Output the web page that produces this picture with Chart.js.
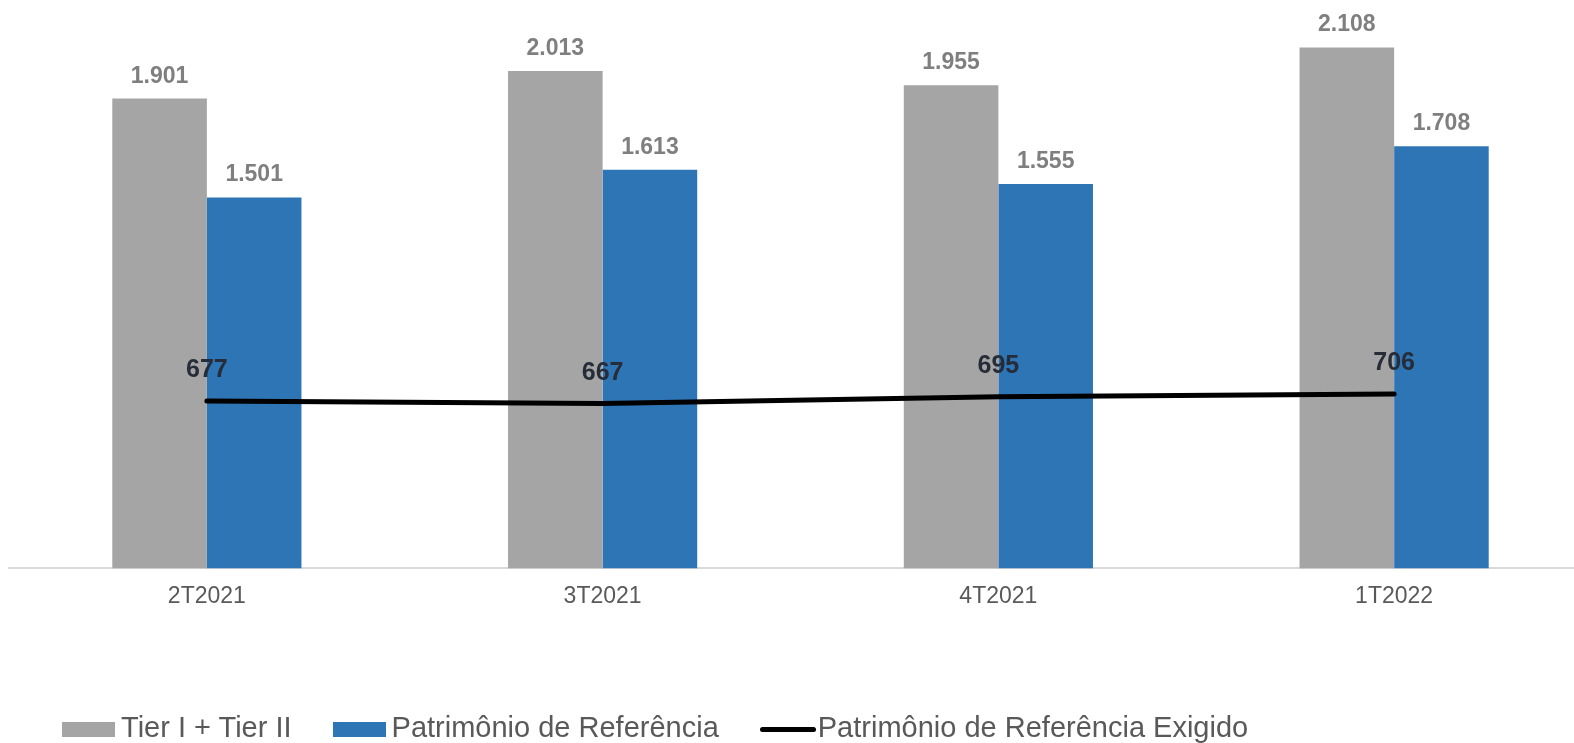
<!DOCTYPE html>
<html lang="pt-BR">
<head>
<meta charset="utf-8">
<title>Patrimônio de Referência</title>
<script src="https://cdn.jsdelivr.net/npm/chart.js@4/dist/chart.umd.min.js"></script>
<style>
    html, body {
        margin: 0;
        padding: 0;
        background: #ffffff;
    }
    #frame {
        position: relative;
        width: 1574px;
        height: 743px;
        overflow: hidden;
        font-family: "Liberation Sans", Arial, sans-serif;
    }
    #chartBox {
        position: absolute;
        left: 0;
        top: 0;
        width: 1600px;
        height: 743px;
    }
    #legend {
        position: absolute;
        left: 62px;
        top: 713px;
        display: flex;
        align-items: center;
        font-size: 29px;
        line-height: 29px;
        color: #595959;
        white-space: nowrap;
    }
    .legend-item {
        display: flex;
        align-items: center;
        margin-right: 41px;
    }
    .legend-box {
        width: 53px;
        height: 15px;
        margin-right: 6px;
        margin-top: 3px;
    }
    .legend-line {
        width: 56px;
        height: 5px;
        border-radius: 3px;
        margin-right: 2px;
        margin-top: 3px;
    }
</style>
</head>
<body>
<div id="frame">
    <div id="chartBox"><canvas id="capitalChart"></canvas></div>
    <div id="legend"></div>
</div>

<script>
const categories = ["2T2021", "3T2021", "4T2021", "1T2022"];
const tierValues = [1901, 2013, 1955, 2108];
const patrimonioValues = [1501, 1613, 1555, 1708];
const exigidoValues = [677, 667, 695, 706];

const seriesNames = ["Tier I + Tier II", "Patrimônio de Referência", "Patrimônio de Referência Exigido"];

// numbers use "." as the thousands separator, like the source
function formatValue(v) {
    return String(v).replace(/\B(?=(\d{3})+(?!\d))/g, ".");
}

const valueLabels = {
    id: "valueLabels",
    afterDatasetsDraw(chart) {
        const ctx = chart.ctx;
        ctx.save();
        ctx.textAlign = "center";
        ctx.textBaseline = "alphabetic";
        chart.data.datasets.forEach((ds, i) => {
            const meta = chart.getDatasetMeta(i);
            const isLine = ds.type === "line";
            ctx.font = isLine
                ? "bold 25px 'Liberation Sans', Arial, sans-serif"
                : "bold 23px 'Liberation Sans', Arial, sans-serif";
            ctx.fillStyle = isLine ? "#262C38" : "#7F7F7F";
            meta.data.forEach((el, j) => {
                const offset = isLine ? 24 : 16;
                ctx.fillText(formatValue(ds.data[j]), el.x, el.y - offset);
            });
        });
        ctx.restore();
    }
};

const CapitalChart = {

    chart: null,

    init() {
        this.createChart();
        this.buildLegend();
    },

    createChart() {

        const ctx = document.getElementById("capitalChart");

        if (!ctx) return;

        this.chart = new Chart(ctx, {
            data: {
                labels: categories,
                datasets: [
                    {
                        type: "line",
                        label: seriesNames[2],
                        data: exigidoValues,
                        borderColor: "#000000",
                        borderWidth: 5,
                        borderCapStyle: "round",
                        pointRadius: 0,
                        tension: 0,
                        fill: false,
                        order: 0
                    },
                    {
                        type: "bar",
                        label: seriesNames[0],
                        data: tierValues,
                        backgroundColor: "#A5A5A5",
                        barPercentage: 1,
                        categoryPercentage: 0.478,
                        order: 1
                    },
                    {
                        type: "bar",
                        label: seriesNames[1],
                        data: patrimonioValues,
                        backgroundColor: "#2E75B6",
                        barPercentage: 1,
                        categoryPercentage: 0.478,
                        order: 1
                    }
                ]
            },
            options: {
                responsive: true,
                maintainAspectRatio: false,
                animation: false,
                layout: {
                    padding: { left: 9, right: 8, top: 0, bottom: 119 }
                },
                plugins: {
                    legend: { display: false },
                    tooltip: { enabled: false }
                },
                scales: {
                    x: {
                        grid: { display: false, drawTicks: false, tickLength: 0 },
                        border: { display: true, color: "#D9D9D9", width: 2 },
                        ticks: {
                            color: "#595959",
                            padding: 14,
                            font: { family: "'Liberation Sans', Arial, sans-serif", size: 23 }
                        }
                    },
                    y: {
                        display: false,
                        beginAtZero: true,
                        min: 0,
                        max: 2300
                    }
                }
            },
            plugins: [valueLabels]
        });

    },

    buildLegend() {

        const legend = document.getElementById("legend");
        const order = [1, 2, 0];

        order.forEach(i => {
            const ds = this.chart.data.datasets[i];
            const item = document.createElement("div");
            item.className = "legend-item";
            const mark = document.createElement("span");
            if (ds.type === "line") {
                mark.className = "legend-line";
                mark.style.background = ds.borderColor;
            } else {
                mark.className = "legend-box";
                mark.style.background = ds.backgroundColor;
            }
            const text = document.createElement("span");
            text.textContent = ds.label;
            item.appendChild(mark);
            item.appendChild(text);
            legend.appendChild(item);
        });

    }

};

document.addEventListener("DOMContentLoaded", () => {
    CapitalChart.init();
});
</script>
</body>
</html>
